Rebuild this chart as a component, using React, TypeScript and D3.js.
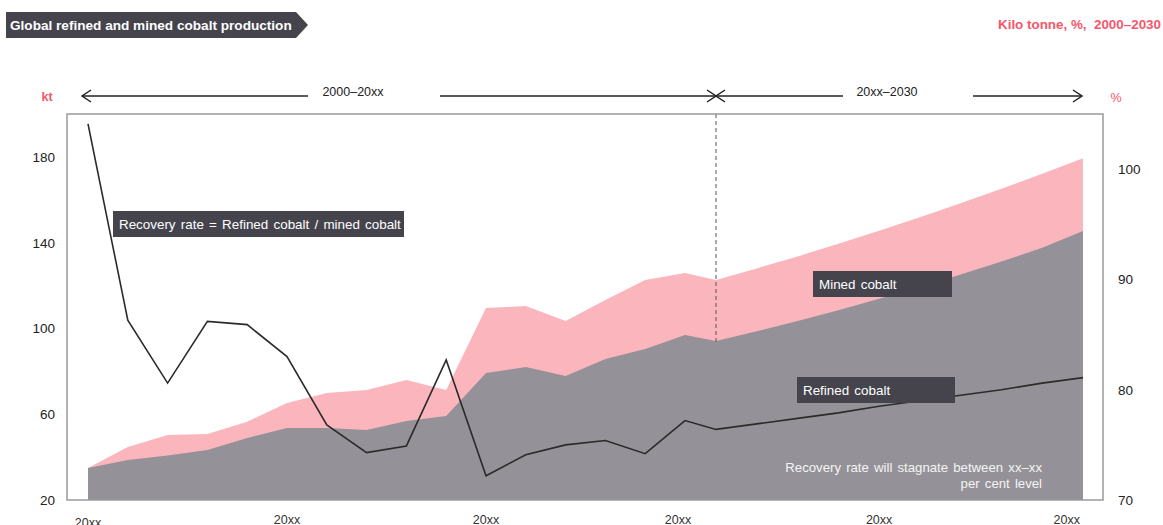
import React from 'react';
import * as d3 from 'd3';

// 26 years, labelled only as "20xx" in the source
const mined = [34.9, 44.7, 50.3, 50.8, 56.5, 65.2, 69.9, 71.3, 76.0, 71.3, 109.5, 110.5, 103.5, 113.3, 122.6, 125.9, 122.6, 128.0, 133.6, 139.5, 145.6, 151.9, 158.4, 165.1, 172.1, 179.4];
const refined = [34.9, 38.7, 40.7, 43.3, 48.9, 53.6, 53.6, 52.6, 56.8, 59.2, 79.2, 82.0, 77.8, 85.8, 90.4, 96.9, 94.1, 98.7, 103.5, 108.5, 113.8, 119.3, 125.1, 131.2, 137.6, 145.4];
const recovery = [104.1, 86.3, 80.6, 86.2, 85.9, 83.0, 76.8, 74.3, 74.9, 82.7, 72.2, 74.1, 75.0, 75.4, 74.2, 77.2, 76.4, 76.9, 77.4, 77.9, 78.5, 79.0, 79.5, 80.0, 80.6, 81.1];
const xTickIdx = [0, 5, 10, 15, 20, 25];
const xTickLabels = ['20xx', '20xx', '20xx', '20xx', '20xx', '20xx'];
const leftTicks = [20, 60, 100, 140, 180];
const rightTicks = [70, 80, 90, 100];
const splitIdx = 16; // last historic year, forecast after

const FONT = '"Liberation Sans", Arial, sans-serif';
const NARROW = '"Liberation Sans Narrow", "Liberation Sans", Arial, sans-serif';
const PINK = '#fbb5bd';
const GREY = '#949298';
const DARK = '#45444d';
const RED = '#f4566c';

export default function App() {
  // plot frame
  const frame = { left: 67, top: 114, right: 1103, bottom: 500 };

  // historic years sit a little tighter than the forecast ones
  const x = d3.scaleLinear().domain([0, splitIdx - 1, splitIdx, mined.length - 1]).range([88, 685, 716, 1083]);
  const yL = d3.scaleLinear().domain([20, 200]).range([frame.bottom, frame.top]);
  const yR = d3.scaleLinear().domain([70, 105]).range([frame.bottom, frame.top]);

  const idx = mined.map((_, i) => i);

  const area = (vals: number[]) =>
    d3.area<number>()
      .x(i => x(i))
      .y0(yL(20))
      .y1(i => yL(vals[i]))(idx) || '';

  const recLine = d3.line<number>()
    .x(i => x(i))
    .y(i => yR(recovery[i]))(idx) || '';

  const sx = x(splitIdx);
  const arrowY = 96;
  const chevron = (tx: number, dir: number) =>
    `M${tx + dir * 9},${arrowY - 6}L${tx},${arrowY}L${tx + dir * 9},${arrowY + 6}`;

  // annotation box helper
  const box = (bx: number, by: number, w: number, label: string) => (
    <g key={label}>
      <rect x={bx} y={by} width={w} height={26} fill={DARK} />
      <text x={bx + 6} y={by + 18} fill="#fff" fontSize={13.4} wordSpacing={1.5} fontFamily={FONT}>{label}</text>
    </g>
  );

  return (
    <svg width={1163} height={525} style={{ position: 'absolute', left: 0, top: 0, background: '#fff' }}>
      {/* title tag */}
      <path d="M6,12H296L308,25L296,38H6Z" fill={DARK} />
      <text x={10} y={30} fill="#fff" fontSize={13.6} fontWeight="bold" fontFamily={FONT}>
        Global refined and mined cobalt production
      </text>
      <text x={1161} y={29} fill={RED} fontSize={13.4} fontWeight="bold" textAnchor="end" fontFamily={FONT}
        style={{ whiteSpace: 'pre' }}>
        {'Kilo tonne, %,  2000–2030'}
      </text>

      {/* axis units */}
      <text x={47} y={101} fill={RED} fontSize={12.5} fontWeight="bold" textAnchor="middle" fontFamily={FONT}>kt</text>
      <text x={1116} y={102} fill={RED} fontSize={12.5} textAnchor="middle" fontFamily={FONT}>%</text>

      {/* period arrows */}
      <g stroke="#222" strokeWidth={1.5} fill="none">
        <line x1={x(0) - 6} x2={308} y1={arrowY} y2={arrowY} />
        <path d={chevron(x(0) - 6, 1)} />
        <line x1={440} x2={sx} y1={arrowY} y2={arrowY} />
        <path d={chevron(sx, -1)} />
        <line x1={sx} x2={843} y1={arrowY} y2={arrowY} />
        <path d={chevron(sx, 1)} />
        <line x1={973} x2={x(25) - 1} y1={arrowY} y2={arrowY} />
        <path d={chevron(x(25) - 1, -1)} />
      </g>
      <text x={353} y={96} fontSize={12.5} textAnchor="middle" fill="#222" fontFamily={NARROW}>2000–20xx</text>
      <text x={887} y={96} fontSize={12.5} textAnchor="middle" fill="#222" fontFamily={NARROW}>20xx–2030</text>

      {/* areas */}
      <path d={area(mined)} fill={PINK} />
      <path d={area(refined)} fill={GREY} />

      {/* split line */}
      <line x1={sx} x2={sx} y1={frame.top} y2={yL(refined[splitIdx]) + 4} stroke="#555" strokeWidth={1} strokeDasharray="4,3" />

      {/* recovery rate line */}
      <path d={recLine} fill="none" stroke="#2b2b2b" strokeWidth={1.6} />

      {/* frame */}
      <rect x={frame.left} y={frame.top} width={frame.right - frame.left} height={frame.bottom - frame.top}
        fill="none" stroke="#9a9a9a" strokeWidth={1.5} />

      {/* left axis */}
      {leftTicks.map(t => (
        <text key={'l' + t} x={55} y={yL(t) + 5} fontSize={13.5} textAnchor="end" fill="#222" fontFamily={FONT}>{t}</text>
      ))}
      {/* right axis */}
      {rightTicks.map(t => (
        <text key={'r' + t} x={1118} y={yR(t) + 5} fontSize={13.5} fill="#222" fontFamily={FONT}>{t}</text>
      ))}
      {/* x labels */}
      {xTickIdx.map((t, i) => (
        <text key={'x' + i} x={i === xTickIdx.length - 1 ? x(t) - 3 : x(t) - (i === 3 ? 7 : 0)} y={i === 0 ? 527 : 524}
          fontSize={12.5} textAnchor={i === xTickIdx.length - 1 ? 'end' : 'middle'} fill="#333" fontFamily={NARROW}>
          {xTickLabels[i]}
        </text>
      ))}

      {/* annotations */}
      {box(113, 211, 291, 'Recovery rate = Refined cobalt / mined cobalt')}
      {box(813, 271, 139, 'Mined cobalt')}
      {box(797, 377, 158, 'Refined cobalt')}
      <text x={1042} y={472} fontSize={13.2} textAnchor="end" fill="#f4f4f4" wordSpacing={1.5} fontFamily={FONT}>
        Recovery rate will stagnate between xx–xx
      </text>
      <text x={1042} y={488} fontSize={13.2} textAnchor="end" fill="#f4f4f4" wordSpacing={1.5} fontFamily={FONT}>per cent level</text>
    </svg>
  );
}
